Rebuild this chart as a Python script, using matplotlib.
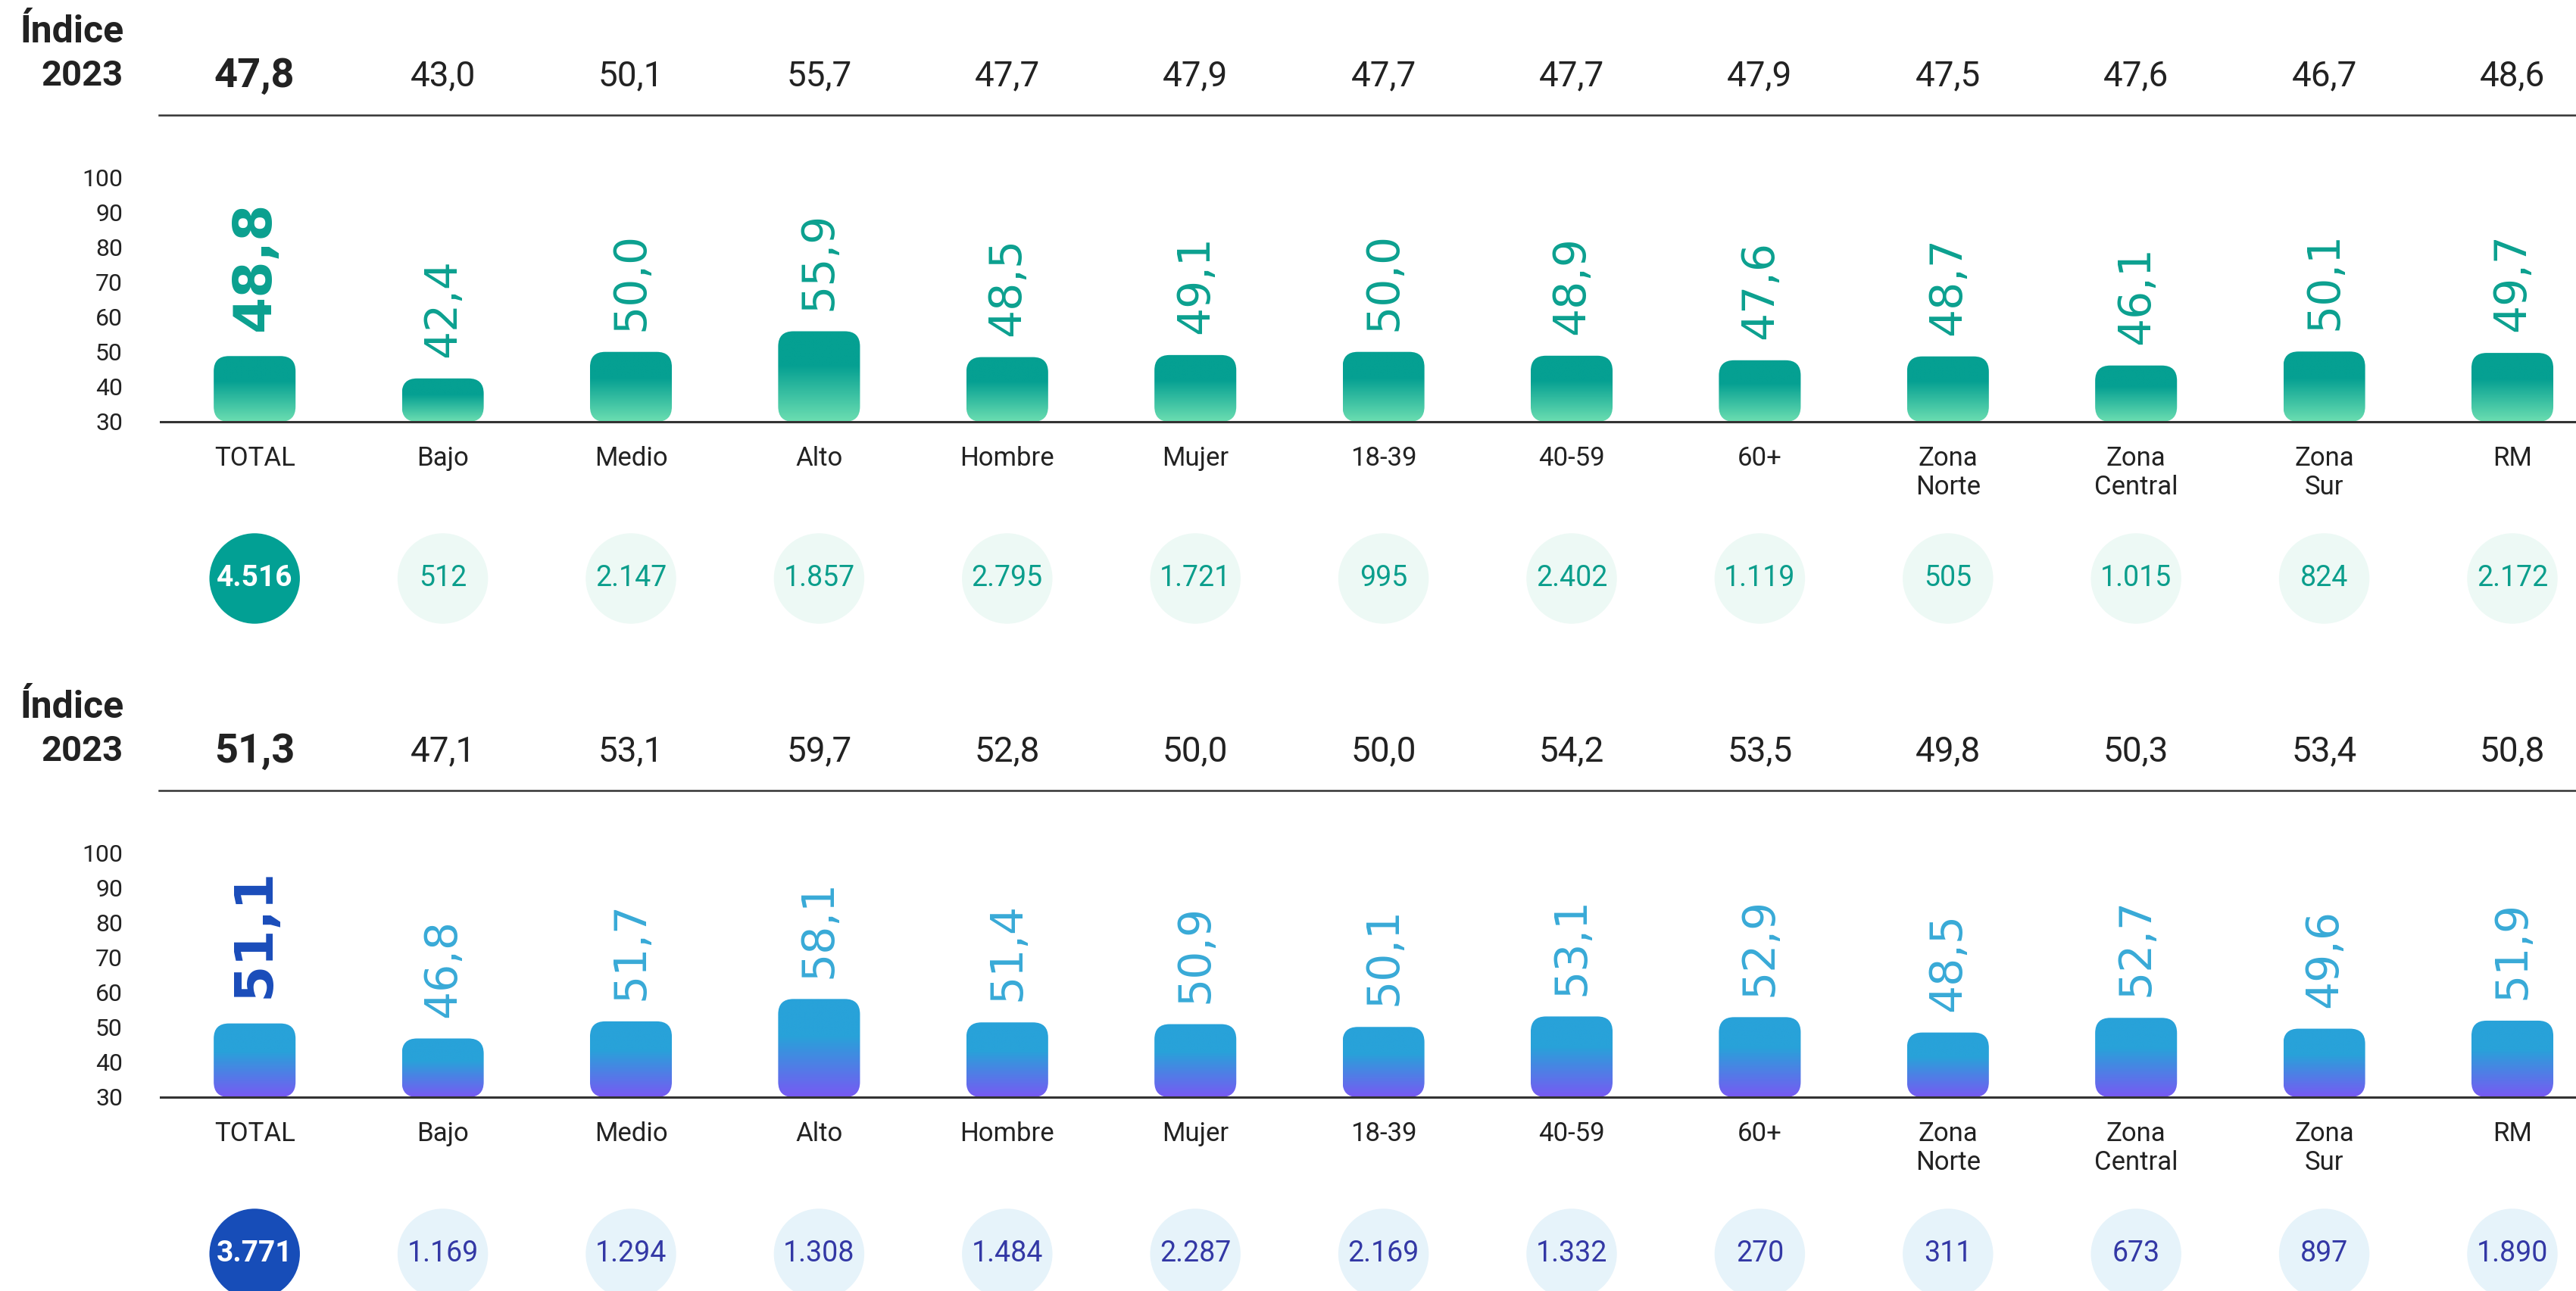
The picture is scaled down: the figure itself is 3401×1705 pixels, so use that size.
import numpy as np
import matplotlib
matplotlib.use("Agg")
import matplotlib.pyplot as plt
from matplotlib.patches import FancyBboxPatch
from matplotlib.lines import Line2D
from matplotlib.colors import LinearSegmentedColormap
from matplotlib.transforms import blended_transform_factory

# ---------------- data ----------------
categories = ["TOTAL", "Bajo", "Medio", "Alto", "Hombre", "Mujer", "18-39",
              "40-59", "60+", "Zona\nNorte", "Zona\nCentral", "Zona\nSur", "RM"]

index_2023_top = [47.8, 43.0, 50.1, 55.7, 47.7, 47.9, 47.7, 47.7, 47.9, 47.5, 47.6, 46.7, 48.6]
values_top = [48.8, 42.4, 50.0, 55.9, 48.5, 49.1, 50.0, 48.9, 47.6, 48.7, 46.1, 50.1, 49.7]
counts_top = [4516, 512, 2147, 1857, 2795, 1721, 995, 2402, 1119, 505, 1015, 824, 2172]

index_2023_bottom = [51.3, 47.1, 53.1, 59.7, 52.8, 50.0, 50.0, 54.2, 53.5, 49.8, 50.3, 53.4, 50.8]
values_bottom = [51.1, 46.8, 51.7, 58.1, 51.4, 50.9, 50.1, 53.1, 52.9, 48.5, 52.7, 49.6, 51.9]
counts_bottom = [3771, 1169, 1294, 1308, 1484, 2287, 2169, 1332, 270, 311, 673, 897, 1890]

y_ticks = [30, 40, 50, 60, 70, 80, 90, 100]
index_title = ["Índice", "2023"]

# ---------------- styling ----------------
W, H = 3401, 1705
fig = plt.figure(figsize=(W / 100, H / 100), dpi=100)
fig.patch.set_facecolor("white")

FONT = ["Roboto", "DejaVu Sans"]
VALUE_FONT = ["DejaVu Sans"]
DARK = "#222222"

def fx(px):
    return px / W

def fy(py):
    return 1 - py / H

def dec(v):
    return f"{v:.1f}".replace(".", ",")

def thousands(n):
    return f"{n:,}".replace(",", ".")

X_LEFT = 212
X_STEP = 248.4
XMIN = -0.5
XMAX = XMIN + (W - X_LEFT) / X_STEP

TEAL = dict(bar_top="#05A092", bar_bot="#6CDEB1", label="#0BA08F", total_label="#0BA08F",
            total_circle="#02A094", circle="#EDF9F5", circle_text="#0B9E8C")
BLUE = dict(bar_top="#28A2D9", bar_bot="#7859F3", label="#38AAD7", total_label="#1A4CBA",
            total_circle="#174DB8", circle="#E6F3FA", circle_text="#3338A5")


def draw_panel(base_y, top_y, index_vals, values, counts, st):
    n = len(categories)
    xs = np.arange(n)
    ax = fig.add_axes([fx(X_LEFT), fy(base_y), 1 - fx(X_LEFT), (base_y - top_y) / H])
    ax.set_facecolor("none")
    for s in ("top", "right", "left"):
        ax.spines[s].set_visible(False)
    ax.spines["bottom"].set_linewidth(2.2)
    ax.spines["bottom"].set_color("#333333")
    ax.spines["bottom"].set_zorder(5)

    ax.set_yticks(y_ticks)
    ax.set_yticklabels([str(t) for t in y_ticks], family=FONT)
    ax.tick_params(axis="y", length=0, pad=36, labelsize=23, labelcolor=DARK)
    ax.set_xticks(xs)
    ax.set_xticklabels(categories, family=FONT, linespacing=1.2)
    ax.tick_params(axis="x", length=0, pad=23, labelsize=25, labelcolor=DARK)

    # pixel scale of the data units, used to keep corner rounding circular
    x_px = X_STEP
    y_px = (base_y - top_y) / 70.0
    aspect = x_px / y_px
    bar_w = 0.435
    radius = 20 / x_px

    cmap = LinearSegmentedColormap.from_list(
        "grad", [(0.0, st["bar_bot"]), (0.62, st["bar_top"]), (1.0, st["bar_top"])])
    grad = np.linspace(0, 1, 256).reshape(-1, 1)

    for x, v in zip(xs, values):
        patch = FancyBboxPatch((x - bar_w / 2, 30), bar_w, v - 30,
                               boxstyle=f"round,pad=0,rounding_size={radius}",
                               mutation_aspect=aspect, facecolor="none",
                               edgecolor="none", transform=ax.transData)
        ax.add_patch(patch)
        im = ax.imshow(grad, extent=[x - bar_w / 2, x + bar_w / 2, 30, v],
                       origin="lower", aspect="auto", cmap=cmap, zorder=2,
                       interpolation="bilinear")
        im.set_clip_path(patch)

        total = (x == 0)
        ax.annotate(dec(v), (x, v), xytext=(0, 24 if total else 20),
                    textcoords="offset points", rotation=90, ha="center", va="bottom",
                    fontsize=50 if total else 42, family=VALUE_FONT,
                    fontweight="bold" if total else "normal",
                    color=st["total_label"] if total else st["label"])

    ax.set_xlim(XMIN, XMAX)
    ax.set_ylim(30, 100)

    trans = blended_transform_factory(ax.transData, fig.transFigure)

    # header row with the 2023 index
    for x, v in zip(xs, index_vals):
        total = (x == 0)
        ax.text(x, fy(base_y - 457), dec(v), transform=trans, ha="center", va="center",
                fontsize=39 if total else 33, family=FONT,
                fontweight="bold" if total else "normal", color=DARK)
    fig.add_artist(Line2D([fx(210), 1.0], [fy(base_y - 405)] * 2,
                          transform=fig.transFigure, color="#333333", lw=1.8))
    fig.text(fx(163), fy(base_y - 514), index_title[0], ha="right", va="center",
             fontsize=36, fontweight="bold", family=FONT, color=DARK)
    fig.text(fx(163), fy(base_y - 457), index_title[1], ha="right", va="center",
             fontsize=34, fontweight="bold", family=FONT, color=DARK)

    # sample-size bubbles
    cy = fy(base_y + 207)
    colors = [st["total_circle"]] + [st["circle"]] * (n - 1)
    ax.scatter(xs, [cy] * n, s=86 ** 2, c=colors, transform=trans,
               clip_on=False, linewidths=0, zorder=3)
    for x, c in zip(xs, counts):
        total = (x == 0)
        ax.text(x, cy, thousands(c), transform=trans, ha="center", va="center",
                fontsize=28 if total else 27, family=FONT,
                fontweight="bold" if total else "normal",
                color="white" if total else st["circle_text"], zorder=4)
    ax.set_xlim(XMIN, XMAX)
    ax.set_ylim(30, 100)
    return ax


draw_panel(557, 234, index_2023_top, values_top, counts_top, TEAL)
draw_panel(1449, 1126, index_2023_bottom, values_bottom, counts_bottom, BLUE)

fig.savefig("out.png", dpi=100, facecolor="white")
